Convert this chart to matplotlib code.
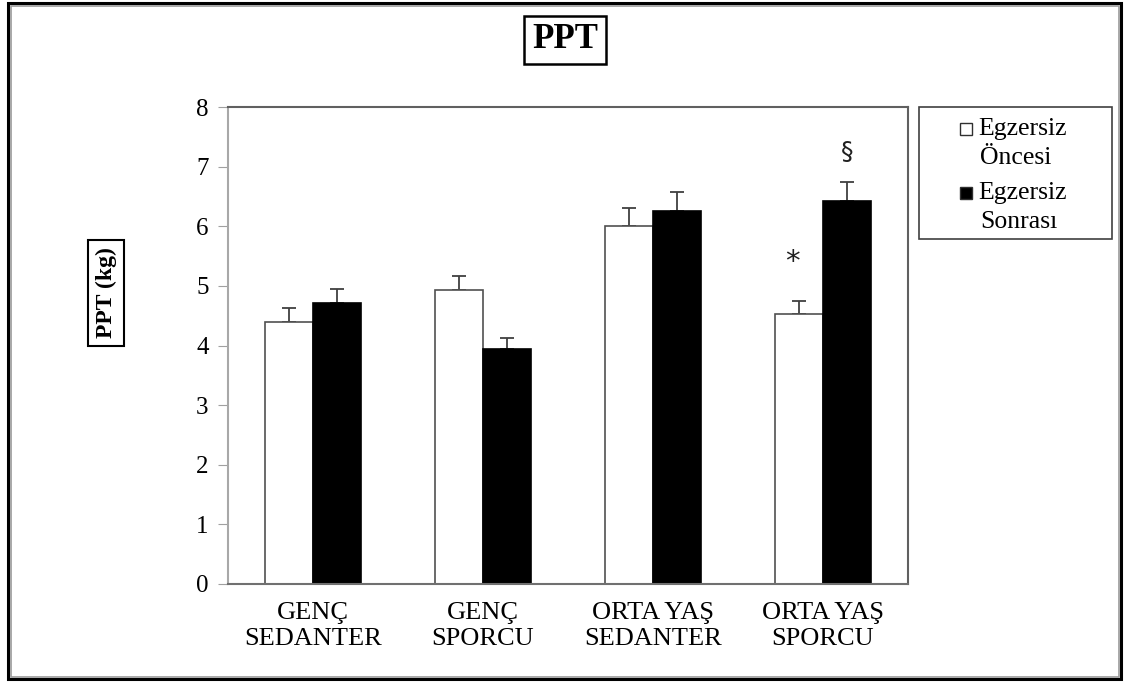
import numpy as np
import matplotlib.pyplot as plt
from matplotlib.patches import Rectangle

# Grup isimleri ve ölçüm değerleri (kg)
gruplar = ['GENÇ\nSEDANTER', 'GENÇ\nSPORCU', 'ORTA YAŞ\nSEDANTER', 'ORTA YAŞ\nSPORCU']
oncesi = [4.40, 4.93, 6.00, 4.53]
oncesi_hata = [0.23, 0.24, 0.30, 0.22]
sonrasi = [4.71, 3.94, 6.25, 6.42]
sonrasi_hata = [0.24, 0.18, 0.32, 0.32]

# Anlamlılık işaretleri: (grup, seri, y)
isaretler = [(3, 0, '*', 5.40), (3, 1, '§', 7.25)]

plt.rcParams['font.family'] = ['Liberation Serif', 'DejaVu Serif']

W, H = 1125, 682
fig = plt.figure(figsize=(W / 100, H / 100), dpi=100)
ax = fig.add_axes([228 / W, 1 - 584 / H, 680 / W, 477 / H])

x = np.arange(len(gruplar))
gen = 0.283

ax.bar(x - gen / 2, oncesi, gen, color='white', edgecolor='#505050', linewidth=1.2, zorder=2)
ax.bar(x + gen / 2, sonrasi, gen, color='black', edgecolor='black', linewidth=1.2, zorder=2)

# Sadece üst hata çubukları
ax.errorbar(x - gen / 2, oncesi, yerr=[np.zeros(4), oncesi_hata], fmt='none',
            ecolor='#404040', elinewidth=1.3, capsize=5, capthick=1.3, zorder=1)
ax.errorbar(x + gen / 2, sonrasi, yerr=[np.zeros(4), sonrasi_hata], fmt='none',
            ecolor='#404040', elinewidth=1.3, capsize=5, capthick=1.3, zorder=1)

for g, s, isaret, yy in isaretler:
    xx = x[g] + (gen / 2 if s else -gen / 2)
    ax.text(xx - (0.04 if s == 0 else 0), yy, isaret, ha='center', va='center',
            fontsize=21 if s == 0 else 18, family='DejaVu Sans', color='#202020')

ax.set_xlim(-0.5, 3.5)
ax.set_ylim(0, 8)
ax.set_yticks(range(0, 9))
ax.set_xticks(x)
ax.set_xticklabels(gruplar, fontsize=19, linespacing=1.25)
ax.tick_params(axis='x', length=0, pad=13)
ax.tick_params(axis='y', direction='out', length=7, color='#a0a0a0', labelsize=18, pad=7)

ax.spines['left'].set_color('#a8a8a8')
ax.spines['bottom'].set_color('#707070')
ax.spines['top'].set_color('#606060')
ax.spines['right'].set_color('#606060')
for sp in ax.spines.values():
    sp.set_linewidth(1.5)

# Başlık ve eksen etiketi (kutulu)
fig.text(565 / W, 1 - 40 / H, 'PPT', ha='center', va='center', fontsize=25, fontweight='bold',
         bbox=dict(boxstyle='square,pad=0.22', fc='white', ec='black', lw=1.8))
fig.text(106 / W, 1 - 293 / H, 'PPT (kg)', ha='center', va='center', rotation=90,
         fontsize=17, fontweight='bold',
         bbox=dict(boxstyle='square,pad=0.3', fc='white', ec='black', lw=1.5))

# Gösterge kutusu
fig.patches.append(Rectangle((919 / W, 1 - 239 / H), 193 / W, 132 / H, transform=fig.transFigure,
                             fc='white', ec='#404040', lw=1.2))
lejant = [('white', 'Egzersiz', 'Öncesi', 129), ('black', 'Egzersiz', 'Sonrası', 193)]
for renk, s1, s2, yp in lejant:
    fig.patches.append(Rectangle((960 / W, 1 - (yp + 6) / H), 12 / W, 12 / H,
                                 transform=fig.transFigure, fc=renk, ec='#303030', lw=1.0))
    fig.text(978 / W, 1 - yp / H, s1, ha='left', va='center', fontsize=18.5)
    fig.text(980 / W, 1 - (yp + 29) / H, s2, ha='left', va='center', fontsize=18.5)

# Dış çerçeve
fig.patches.append(Rectangle((8 / W, 3 / H), 1113 / W, 676 / H, transform=fig.transFigure,
                             fill=False, ec='black', lw=2.2))
fig.patches.append(Rectangle((10.5 / W, 5.5 / H), 1108 / W, 671 / H, transform=fig.transFigure,
                             fill=False, ec='#9a9a9a', lw=1.2))

fig.savefig('out.png', dpi=100)
